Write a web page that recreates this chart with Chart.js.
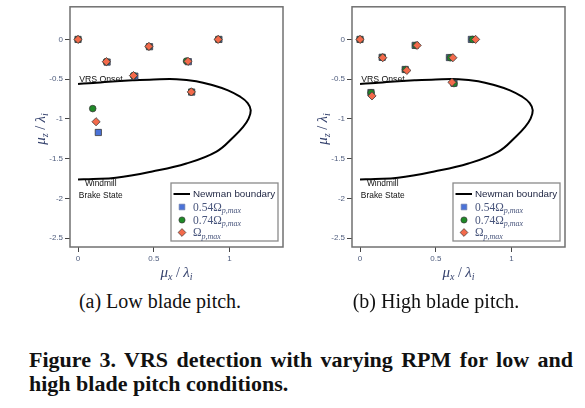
<!DOCTYPE html>
<html>
<head>
<meta charset="utf-8">
<script src="https://cdn.jsdelivr.net/npm/chart.js@4.4.0/dist/chart.umd.min.js"></script>
<style>
  html, body { margin:0; padding:0; background:#fff; }
  body { width:585px; height:408px; position:relative; overflow:hidden; font-family:"Liberation Serif","Times New Roman",serif; color:#111; }
  .box { position:absolute; top:0; width:290px; height:285px; }
  #boxA { left:0; }
  #boxB { left:282px; }
  .sub { position:absolute; font-size:20px; line-height:20px; white-space:nowrap; transform:translateX(-50%); }
  .fig { position:absolute; font-size:22px; line-height:22px; font-weight:bold; white-space:nowrap; left:29px; }
  #fig1 { width:544px; text-align:justify; text-align-last:justify; white-space:normal; }
</style>
</head>
<body>
<div class="box" id="boxA"><canvas id="chartA" width="290" height="285"></canvas></div>
<div class="box" id="boxB"><canvas id="chartB" width="290" height="285"></canvas></div>
<div class="sub" style="left:160px;top:291px;">(a) Low blade pitch.</div>
<div class="sub" style="left:436px;top:291px;">(b) High blade pitch.</div>
<div class="fig" id="fig1" style="top:349px;">Figure 3. VRS detection with varying RPM for low and</div>
<div class="fig" style="top:373px;">high blade pitch conditions.</div>
<script>
// ---------- data ----------
const xTicks = [0, 0.5, 1];
const yTicks = [0, -0.5, -1, -1.5, -2, -2.5];

// Newman boundary
const boundaryX = [0, 0.1, 0.2, 0.36, 0.5, 0.65, 0.78, 0.89, 0.99, 1.07, 1.12, 1.14, 1.125, 1.09, 1.03, 0.914, 0.715, 0.49, 0.25, 0.1, 0];
const boundaryY = [-0.56, -0.548, -0.532, -0.514, -0.503, -0.5, -0.525, -0.576, -0.64, -0.72, -0.8, -0.89, -1.0, -1.1, -1.22, -1.41, -1.56, -1.66, -1.74, -1.755, -1.76];

// (a) Low blade pitch
const lowX_054 = [0, 0.192, 0.472, 0.375, 0.728, 0.75, 0.93, 0.134];
const lowY_054 = [0, -0.285, -0.092, -0.462, -0.28, -0.662, 0, -1.17];
const lowX_074 = [0, 0.187, 0.468, 0.366, 0.716, 0.748, 0.925, 0.097];
const lowY_074 = [0, -0.28, -0.09, -0.455, -0.272, -0.66, 0, -0.87];
const lowX_max = [0, 0.187, 0.468, 0.366, 0.726, 0.748, 0.925, 0.119];
const lowY_max = [0, -0.28, -0.088, -0.455, -0.276, -0.66, 0, -1.035];

// (b) High blade pitch
const highX_054 = [0, 0.146, 0.364, 0.298, 0.59, 0.735, 0.62, 0.072];
const highY_054 = [0, -0.225, -0.075, -0.378, -0.228, 0, -0.55, -0.668];
const highX_074 = [0, 0.148, 0.368, 0.3, 0.596, 0.742, 0.62, 0.073];
const highY_074 = [0, -0.225, -0.075, -0.38, -0.23, 0, -0.555, -0.67];
const highX_max = [0, 0.15, 0.377, 0.309, 0.613, 0.763, 0.607, 0.079];
const highY_max = [0, -0.23, -0.075, -0.39, -0.23, 0, -0.54, -0.71];

// ---------- helpers ----------
const zip = (xs, ys) => xs.map((x, i) => ({ x: x, y: ys[i] }));
const C_BLUE = '#4a72d8', C_GREEN = '#1f8a27', C_ORANGE = '#f36a4b';
const MARK_EDGE = '#3a3a3a';
const SERIF = '"Liberation Serif","Times New Roman",serif';
const SANS = '"Liberation Sans",Arial,Helvetica,sans-serif';

function richWidth(ctx, segs) {
  let w = 0;
  segs.forEach(s => { ctx.font = s.font; w += ctx.measureText(s.t).width; });
  return w;
}
function drawRich(ctx, segs, x, y) {
  let cx = x;
  segs.forEach(s => {
    ctx.font = s.font;
    ctx.fillText(s.t, cx, y + (s.dy || 0));
    cx += ctx.measureText(s.t).width;
  });
}
function mathTitle(main, sub) {
  return [
    { t: 'μ', font: 'italic 15px ' + SERIF },
    { t: sub, font: 'italic 10px ' + SERIF, dy: 3 },
    { t: ' / ', font: '14px ' + SERIF },
    { t: 'λ', font: 'italic 15px ' + SERIF },
    { t: 'i', font: 'italic 10px ' + SERIF, dy: 3 }
  ];
}

const decoPlugin = {
  id: 'deco',
  afterDatasetsDraw(chart) {
    const ctx = chart.ctx;
    const a = chart.chartArea;
    const xs = chart.scales.x, ys = chart.scales.y;
    ctx.save();
    // frame
    ctx.strokeStyle = '#707070';
    ctx.lineWidth = 1.5;
    ctx.strokeRect(a.left, a.top, a.right - a.left, a.bottom - a.top);

    // annotations
    ctx.fillStyle = '#111';
    ctx.textBaseline = 'alphabetic';
    ctx.textAlign = 'left';
    ctx.font = '8.7px ' + SANS;
    ctx.fillText('VRS Onset', xs.getPixelForValue(0.008), ys.getPixelForValue(-0.53));
    ctx.textAlign = 'center';
    ctx.textBaseline = 'middle';
    ctx.font = '8.4px ' + SANS;
    ctx.fillText('Windmill', xs.getPixelForValue(0.15), ys.getPixelForValue(-1.82));
    ctx.fillText('Brake State', xs.getPixelForValue(0.15), ys.getPixelForValue(-1.967));

    // legend
    const bw = 107, bh = 58;
    const bx = a.right - 5 - bw, by = a.bottom - 6 - bh;
    ctx.fillStyle = '#fff';
    ctx.fillRect(bx, by, bw, bh);
    ctx.strokeStyle = '#8a8a8a';
    ctx.lineWidth = 1.3;
    ctx.strokeRect(bx, by, bw, bh);
    const rows = [by + 11, by + 24, by + 37, by + 49.5];
    // line entry
    ctx.strokeStyle = '#000';
    ctx.lineWidth = 2;
    ctx.beginPath();
    ctx.moveTo(bx + 2.5, rows[0]);
    ctx.lineTo(bx + 19, rows[0]);
    ctx.stroke();
    ctx.fillStyle = '#1c2340';
    ctx.textAlign = 'left';
    ctx.textBaseline = 'middle';
    ctx.font = '9.8px ' + SANS;
    ctx.fillText('Newman boundary', bx + 22, rows[0]);
    const entries = [
      { style: 'rect', r: 4.0, c: C_BLUE, main: '0.54Ω' },
      { style: 'circle', r: 3.1, c: C_GREEN, main: '0.74Ω' },
      { style: 'rectRot', r: 3.9, c: C_ORANGE, main: 'Ω' }
    ];
    entries.forEach((e, i) => {
      const y = rows[i + 1];
      ctx.fillStyle = e.c;
      ctx.strokeStyle = e.style === 'rect' ? '#6a7aa8' : MARK_EDGE;
      ctx.lineWidth = 0.7;
      Chart.helpers.drawPoint(ctx, { pointStyle: e.style, radius: e.r, borderWidth: 0.7, rotation: 0 }, bx + 11, y);
      ctx.fillStyle = '#48557c';
      ctx.textBaseline = 'alphabetic';
      drawRich(ctx, [
        { t: e.main, font: '11.5px ' + SERIF },
        { t: 'p,max', font: 'italic 8px ' + SERIF, dy: 2.5 }
      ], bx + 22, y + 3.5);
    });

    // axis titles
    ctx.fillStyle = '#36436e';
    ctx.textBaseline = 'alphabetic';
    const tx = mathTitle('μ', 'x');
    const wx = richWidth(ctx, tx);
    drawRich(ctx, tx, (a.left + a.right) / 2 - wx / 2, 277);
    const ty = mathTitle('μ', 'z');
    const wy = richWidth(ctx, ty);
    ctx.translate(45, (a.top + a.bottom) / 2 + 2);
    ctx.rotate(-Math.PI / 2);
    drawRich(ctx, ty, -wy / 2, 0);
    ctx.restore();
  }
};

function makeChart(id, s) {
  const pt = (style, r, color, edge) => ({
    pointStyle: style, pointRadius: r, pointHoverRadius: r,
    backgroundColor: color, borderColor: edge, borderWidth: 0.8
  });
  return new Chart(document.getElementById(id), {
    type: 'scatter',
    data: {
      datasets: [
        Object.assign({ label: 'Ωp,max', data: zip(s.x3, s.y3) }, pt('rectRot', 4.1, C_ORANGE, MARK_EDGE)),
        Object.assign({ label: '0.74Ωp,max', data: zip(s.x2, s.y2) }, pt('circle', 3.3, C_GREEN, MARK_EDGE)),
        Object.assign({ label: '0.54Ωp,max', data: zip(s.x1, s.y1) }, pt('rect', 4.4, C_BLUE, MARK_EDGE)),
        {
          label: 'Newman boundary', data: zip(boundaryX, boundaryY),
          showLine: true, pointRadius: 0, pointHoverRadius: 0,
          borderColor: '#000', borderWidth: 2, tension: 0.4, fill: false
        }
      ]
    },
    options: {
      responsive: false,
      animation: false,
      events: [],
      layout: { padding: { top: 6, right: 7, left: 0, bottom: 0 } },
      plugins: { legend: { display: false }, tooltip: { enabled: false } },
      scales: {
        x: {
          type: 'linear', min: -0.053, max: 1.353,
          afterBuildTicks: sc => { sc.ticks = xTicks.map(v => ({ value: v })); },
          afterFit: sc => { sc.height = 38; },
          ticks: { font: { size: 8, family: SANS }, color: '#4f5d7e', padding: 2, callback: v => String(v), maxRotation: 0 },
          grid: { drawOnChartArea: false, drawTicks: true, tickLength: 5, color: '#444', lineWidth: 1 },
          border: { display: false }
        },
        y: {
          type: 'linear', min: -2.61, max: 0.41,
          afterBuildTicks: sc => { sc.ticks = yTicks.map(v => ({ value: v })); },
          afterFit: sc => { sc.width = 70; },
          ticks: { font: { size: 8, family: SANS }, color: '#4f5d7e', padding: 2, callback: v => String(v) },
          grid: { drawOnChartArea: false, drawTicks: true, tickLength: 5, color: '#444', lineWidth: 1 },
          border: { display: false }
        }
      }
    },
    plugins: [decoPlugin]
  });
}

makeChart('chartA', { x1: lowX_054, y1: lowY_054, x2: lowX_074, y2: lowY_074, x3: lowX_max, y3: lowY_max });
makeChart('chartB', { x1: highX_054, y1: highY_054, x2: highX_074, y2: highY_074, x3: highX_max, y3: highY_max });
</script>
</body>
</html>
